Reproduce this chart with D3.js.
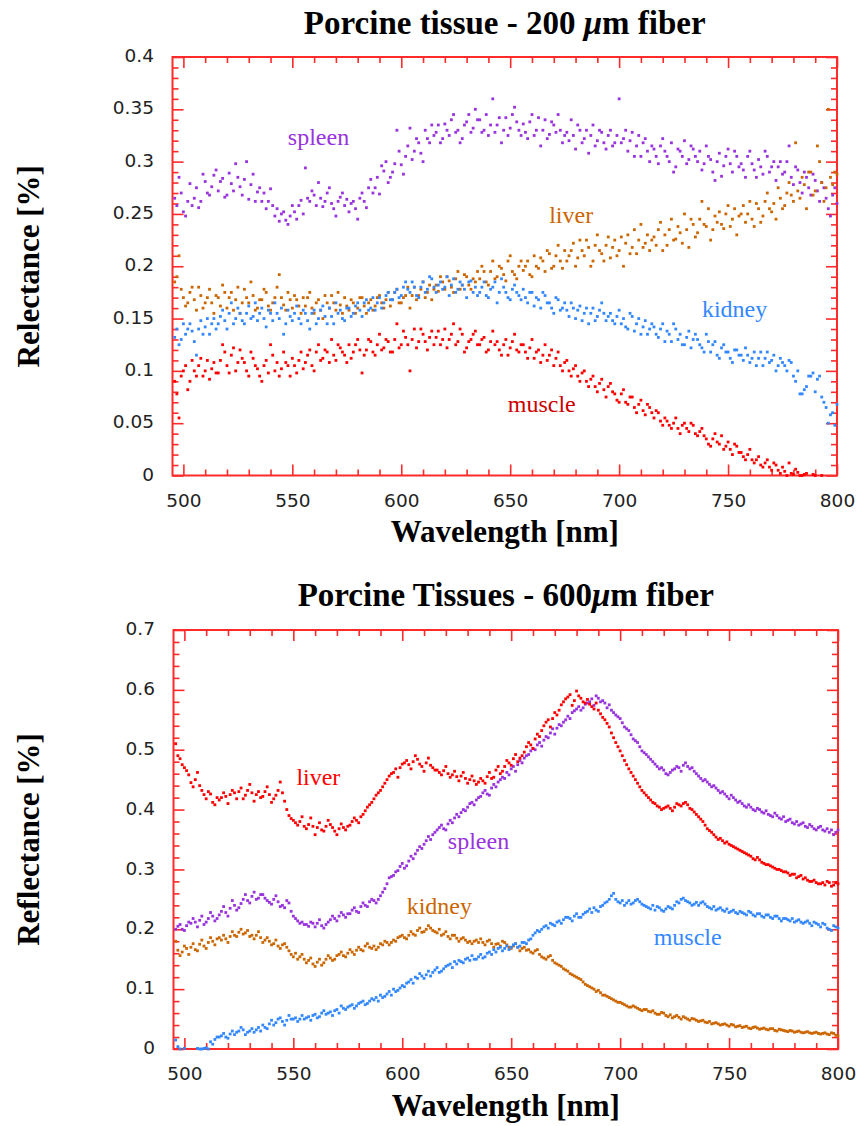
<!DOCTYPE html>
<html><head><meta charset="utf-8">
<script src="https://cdn.jsdelivr.net/npm/d3@7"></script>
<style>body{margin:0;background:#fff}svg{display:block}</style>
</head><body>
<svg id="chart" width="862" height="1126"></svg>
<script>
// ---------- DATA ----------
const wavelengths = [
496,497,498,499,500,501,502,503,504,505,506,507,508,509,510,511,512,513,514,515,
516,517,518,519,520,521,522,523,524,525,526,527,528,529,530,531,532,533,534,535,
536,537,538,539,540,541,542,543,544,545,546,547,548,549,550,551,552,553,554,555,
556,557,558,559,560,561,562,563,564,565,566,567,568,569,570,571,572,573,574,575,
576,577,578,579,580,581,582,583,584,585,586,587,588,589,590,591,592,593,594,595,
596,597,598,599,600,601,602,603,604,605,606,607,608,609,610,611,612,613,614,615,
616,617,618,619,620,621,622,623,624,625,626,627,628,629,630,631,632,633,634,635,
636,637,638,639,640,641,642,643,644,645,646,647,648,649,650,651,652,653,654,655,
656,657,658,659,660,661,662,663,664,665,666,667,668,669,670,671,672,673,674,675,
676,677,678,679,680,681,682,683,684,685,686,687,688,689,690,691,692,693,694,695,
696,697,698,699,700,701,702,703,704,705,706,707,708,709,710,711,712,713,714,715,
716,717,718,719,720,721,722,723,724,725,726,727,728,729,730,731,732,733,734,735,
736,737,738,739,740,741,742,743,744,745,746,747,748,749,750,751,752,753,754,755,
756,757,758,759,760,761,762,763,764,765,766,767,768,769,770,771,772,773,774,775,
776,777,778,779,780,781,782,783,784,785,786,787,788,789,790,791,792,793,794,795,
796,797,798,799,800];

// Panel 1: 200 um fiber
const fiber200Spleen = [
0.265,0.258,0.285,0.27,0.252,0.248,0.262,0.279,0.258,0.265,0.275,0.256,0.262,0.288,0.281,0.27,0.268,0.276,0.287,0.292,
0.272,0.281,0.284,0.266,0.268,0.289,0.279,0.272,0.298,0.285,0.276,0.268,0.283,0.3,0.264,0.278,0.288,0.262,0.271,0.275,
0.262,0.27,0.255,0.262,0.274,0.258,0.248,0.255,0.243,0.25,0.252,0.244,0.24,0.248,0.258,0.252,0.245,0.258,0.263,0.25,
0.294,0.265,0.262,0.272,0.268,0.258,0.28,0.265,0.257,0.262,0.27,0.275,0.26,0.255,0.248,0.262,0.266,0.27,0.258,0.264,
0.252,0.26,0.262,0.255,0.245,0.265,0.27,0.262,0.256,0.275,0.283,0.27,0.275,0.285,0.269,0.296,0.291,0.3,0.28,0.285,
0.29,0.298,0.33,0.31,0.297,0.288,0.305,0.315,0.332,0.302,0.31,0.322,0.318,0.308,0.3,0.33,0.322,0.318,0.335,0.325,
0.328,0.335,0.318,0.322,0.336,0.33,0.325,0.34,0.345,0.328,0.33,0.318,0.322,0.335,0.338,0.345,0.328,0.332,0.35,0.34,
0.34,0.328,0.33,0.345,0.325,0.335,0.36,0.328,0.335,0.342,0.318,0.33,0.342,0.325,0.332,0.345,0.352,0.338,0.33,0.325,
0.336,0.328,0.322,0.338,0.345,0.325,0.33,0.342,0.315,0.33,0.34,0.322,0.326,0.338,0.335,0.328,0.345,0.33,0.318,0.325,
0.328,0.32,0.34,0.325,0.312,0.335,0.33,0.318,0.322,0.33,0.308,0.325,0.335,0.315,0.32,0.33,0.328,0.318,0.312,0.325,
0.33,0.315,0.318,0.325,0.36,0.318,0.322,0.33,0.31,0.32,0.328,0.305,0.315,0.325,0.305,0.318,0.322,0.31,0.3,0.315,
0.312,0.305,0.298,0.315,0.322,0.31,0.305,0.3,0.318,0.29,0.295,0.312,0.31,0.305,0.32,0.298,0.302,0.315,0.312,0.305,
0.3,0.31,0.292,0.298,0.315,0.305,0.302,0.29,0.282,0.3,0.308,0.286,0.296,0.305,0.312,0.298,0.29,0.31,0.305,0.295,
0.298,0.292,0.285,0.305,0.31,0.298,0.292,0.285,0.302,0.295,0.288,0.31,0.305,0.29,0.295,0.3,0.282,0.295,0.3,0.288,
0.29,0.3,0.315,0.285,0.278,0.295,0.292,0.28,0.27,0.29,0.285,0.275,0.268,0.288,0.282,0.272,0.262,0.28,0.275,0.265,
0.255,0.248,0.268,0.275,0.26];
const fiber200Liver = [
0.185,0.19,0.21,0.178,0.17,0.162,0.165,0.175,0.18,0.168,0.158,0.18,0.172,0.16,0.165,0.17,0.178,0.165,0.155,0.172,
0.17,0.162,0.182,0.175,0.16,0.17,0.175,0.158,0.168,0.18,0.155,0.165,0.178,0.17,0.165,0.185,0.172,0.158,0.16,0.168,
0.168,0.178,0.175,0.162,0.158,0.165,0.17,0.18,0.192,0.17,0.163,0.158,0.175,0.168,0.16,0.172,0.168,0.162,0.155,0.17,
0.162,0.17,0.175,0.16,0.155,0.165,0.168,0.158,0.15,0.172,0.165,0.16,0.172,0.165,0.158,0.175,0.163,0.155,0.17,0.162,
0.158,0.168,0.165,0.155,0.16,0.17,0.17,0.162,0.155,0.165,0.168,0.158,0.162,0.17,0.172,0.165,0.16,0.168,0.175,0.162,
0.168,0.175,0.178,0.165,0.165,0.17,0.172,0.18,0.16,0.172,0.18,0.168,0.172,0.178,0.185,0.17,0.175,0.182,0.168,0.178,
0.182,0.176,0.19,0.185,0.178,0.19,0.186,0.18,0.175,0.188,0.195,0.178,0.182,0.192,0.19,0.182,0.178,0.188,0.185,0.195,
0.188,0.2,0.195,0.185,0.182,0.195,0.205,0.188,0.19,0.2,0.198,0.192,0.186,0.205,0.21,0.195,0.192,0.188,0.2,0.205,
0.196,0.2,0.205,0.192,0.19,0.21,0.2,0.198,0.208,0.205,0.195,0.215,0.212,0.198,0.2,0.21,0.22,0.205,0.198,0.215,
0.205,0.21,0.215,0.222,0.2,0.208,0.225,0.215,0.21,0.225,0.218,0.2,0.205,0.22,0.23,0.215,0.212,0.205,0.22,0.228,
0.208,0.218,0.225,0.21,0.215,0.228,0.2,0.222,0.23,0.212,0.218,0.235,0.212,0.225,0.24,0.218,0.222,0.23,0.215,0.225,
0.228,0.22,0.235,0.242,0.215,0.23,0.22,0.235,0.245,0.225,0.226,0.238,0.232,0.222,0.25,0.235,0.218,0.245,0.24,0.228,
0.232,0.245,0.262,0.24,0.238,0.255,0.225,0.235,0.248,0.242,0.252,0.24,0.236,0.25,0.258,0.238,0.245,0.255,0.23,0.248,
0.25,0.258,0.242,0.25,0.262,0.245,0.238,0.26,0.255,0.242,0.248,0.262,0.27,0.255,0.252,0.26,0.245,0.275,0.265,0.255,
0.258,0.27,0.28,0.268,0.262,0.318,0.272,0.265,0.285,0.278,0.255,0.29,0.29,0.268,0.272,0.315,0.3,0.28,0.262,0.275,
0.35,0.285,0.278,0.29,0.288];
const fiber200Kidney = [
0.132,0.14,0.125,0.13,0.145,0.135,0.14,0.145,0.138,0.128,0.115,0.14,0.148,0.135,0.142,0.15,0.135,0.145,0.15,0.14,
0.145,0.152,0.158,0.148,0.14,0.155,0.165,0.145,0.15,0.16,0.155,0.148,0.145,0.155,0.162,0.15,0.152,0.165,0.148,0.155,
0.16,0.15,0.142,0.158,0.155,0.148,0.165,0.155,0.15,0.16,0.135,0.145,0.158,0.152,0.148,0.155,0.162,0.15,0.145,0.158,
0.155,0.148,0.14,0.155,0.158,0.145,0.15,0.158,0.162,0.152,0.145,0.16,0.152,0.145,0.165,0.155,0.158,0.15,0.148,0.16,
0.16,0.152,0.155,0.162,0.165,0.158,0.152,0.165,0.168,0.158,0.16,0.17,0.158,0.165,0.17,0.16,0.165,0.172,0.175,0.168,
0.168,0.175,0.178,0.17,0.172,0.18,0.185,0.178,0.175,0.185,0.18,0.172,0.17,0.18,0.185,0.175,0.178,0.19,0.188,0.18,
0.175,0.182,0.185,0.178,0.18,0.19,0.172,0.182,0.188,0.175,0.178,0.185,0.182,0.178,0.17,0.185,0.186,0.175,0.18,0.172,
0.175,0.18,0.185,0.172,0.17,0.178,0.18,0.185,0.165,0.175,0.188,0.18,0.175,0.17,0.168,0.178,0.182,0.175,0.172,0.168,
0.178,0.17,0.165,0.175,0.175,0.162,0.17,0.168,0.16,0.175,0.172,0.165,0.165,0.16,0.155,0.17,0.168,0.158,0.16,0.165,
0.158,0.152,0.165,0.16,0.15,0.158,0.162,0.148,0.155,0.16,0.145,0.155,0.16,0.148,0.152,0.158,0.165,0.155,0.148,0.152,
0.155,0.148,0.145,0.152,0.158,0.145,0.15,0.142,0.14,0.155,0.152,0.138,0.145,0.15,0.135,0.142,0.148,0.135,0.14,0.145,
0.142,0.135,0.132,0.14,0.145,0.128,0.138,0.135,0.128,0.145,0.14,0.13,0.135,0.125,0.125,0.132,0.138,0.122,0.13,0.135,
0.13,0.125,0.122,0.118,0.135,0.128,0.118,0.125,0.128,0.115,0.112,0.122,0.125,0.118,0.118,0.112,0.108,0.12,0.12,0.115,
0.115,0.11,0.122,0.115,0.108,0.112,0.118,0.105,0.112,0.118,0.105,0.112,0.118,0.108,0.11,0.115,0.1,0.105,0.112,0.108,
0.105,0.1,0.11,0.108,0.095,0.09,0.1,0.078,0.078,0.082,0.085,0.095,0.095,0.098,0.08,0.092,0.095,0.075,0.07,0.065,
0.05,0.058,0.06,0.048,0.068];
const fiber200Muscle = [
0.09,0.078,0.055,0.095,0.1,0.105,0.082,0.09,0.11,0.1,0.095,0.105,0.112,0.095,0.1,0.11,0.092,0.102,0.108,0.098,
0.098,0.11,0.125,0.118,0.105,0.098,0.115,0.122,0.1,0.108,0.12,0.112,0.108,0.1,0.095,0.118,0.112,0.105,0.102,0.095,
0.09,0.105,0.11,0.098,0.125,0.115,0.1,0.108,0.095,0.102,0.118,0.108,0.105,0.095,0.112,0.105,0.098,0.11,0.118,0.102,
0.108,0.115,0.12,0.105,0.1,0.118,0.125,0.11,0.112,0.12,0.118,0.108,0.13,0.115,0.11,0.125,0.122,0.118,0.115,0.108,
0.125,0.112,0.118,0.125,0.13,0.12,0.098,0.115,0.12,0.13,0.128,0.118,0.115,0.125,0.135,0.12,0.122,0.13,0.128,0.118,
0.118,0.13,0.145,0.122,0.125,0.138,0.132,0.125,0.1,0.13,0.14,0.122,0.128,0.14,0.135,0.128,0.12,0.132,0.138,0.125,
0.132,0.138,0.125,0.13,0.14,0.122,0.13,0.135,0.145,0.125,0.128,0.14,0.135,0.118,0.122,0.128,0.13,0.135,0.138,0.125,
0.125,0.13,0.132,0.118,0.12,0.128,0.138,0.125,0.128,0.12,0.115,0.125,0.13,0.115,0.122,0.128,0.135,0.12,0.118,0.125,
0.125,0.118,0.112,0.122,0.13,0.112,0.118,0.12,0.108,0.115,0.125,0.11,0.115,0.12,0.105,0.112,0.118,0.105,0.1,0.108,
0.11,0.1,0.095,0.102,0.105,0.095,0.09,0.098,0.1,0.09,0.085,0.092,0.095,0.085,0.08,0.088,0.092,0.082,0.075,0.085,
0.088,0.08,0.078,0.072,0.07,0.078,0.082,0.07,0.068,0.075,0.075,0.065,0.06,0.068,0.072,0.062,0.058,0.068,0.065,0.06,
0.055,0.062,0.06,0.052,0.048,0.055,0.052,0.048,0.045,0.05,0.055,0.045,0.04,0.048,0.05,0.045,0.042,0.05,0.048,0.04,
0.038,0.042,0.045,0.038,0.035,0.03,0.028,0.035,0.04,0.032,0.03,0.038,0.025,0.028,0.032,0.025,0.02,0.03,0.028,0.022,
0.022,0.018,0.015,0.02,0.025,0.015,0.012,0.015,0.018,0.01,0.008,0.012,0.015,0.008,0.005,0.012,0.01,0.005,0.002,0.008,
0.004,0.0,0.012,0.002,0.001,0.006,0.003,0.0,0.0,0.001,0.002,-0.004,-0.005,0.001,0.0,-0.01,-0.01,0.0,-0.01,-0.02,
-0.02,-0.02,-0.02,-0.02,-0.02];

// Panel 2: 600 um fiber
const fiber600Liver = [
0.51,0.49,0.485,0.475,0.47,0.465,0.458,0.445,0.438,0.45,0.462,0.44,0.432,0.425,0.418,0.43,0.426,0.412,0.408,0.42,
0.416,0.42,0.428,0.422,0.41,0.425,0.432,0.428,0.418,0.43,0.436,0.418,0.424,0.432,0.442,0.428,0.414,0.425,0.43,0.42,
0.422,0.43,0.438,0.425,0.412,0.418,0.424,0.432,0.446,0.428,0.414,0.4,0.39,0.385,0.382,0.378,0.374,0.38,0.388,0.372,
0.368,0.375,0.386,0.372,0.358,0.37,0.378,0.366,0.364,0.372,0.382,0.375,0.37,0.364,0.358,0.368,0.376,0.37,0.366,0.372,
0.374,0.38,0.386,0.382,0.378,0.388,0.392,0.398,0.404,0.408,0.412,0.418,0.424,0.428,0.432,0.438,0.444,0.45,0.456,0.46,
0.462,0.468,0.454,0.47,0.476,0.478,0.482,0.475,0.468,0.48,0.49,0.484,0.476,0.472,0.464,0.478,0.486,0.474,0.47,0.466,
0.466,0.462,0.458,0.465,0.472,0.46,0.454,0.458,0.464,0.455,0.448,0.456,0.462,0.452,0.444,0.45,0.456,0.448,0.442,0.446,
0.452,0.448,0.444,0.455,0.462,0.452,0.454,0.466,0.472,0.46,0.464,0.472,0.482,0.478,0.474,0.485,0.492,0.48,0.486,0.49,
0.496,0.505,0.512,0.508,0.502,0.518,0.526,0.522,0.532,0.54,0.546,0.55,0.538,0.552,0.562,0.558,0.566,0.575,0.58,0.585,
0.588,0.592,0.574,0.582,0.598,0.59,0.586,0.58,0.578,0.584,0.576,0.572,0.568,0.578,0.566,0.56,0.554,0.55,0.544,0.538,
0.528,0.52,0.512,0.505,0.498,0.49,0.482,0.475,0.468,0.462,0.456,0.45,0.444,0.438,0.432,0.428,0.424,0.42,0.416,0.412,
0.41,0.406,0.404,0.4,0.402,0.404,0.406,0.402,0.398,0.404,0.41,0.408,0.406,0.41,0.412,0.408,0.402,0.4,0.396,0.392,
0.388,0.384,0.38,0.374,0.368,0.365,0.362,0.358,0.354,0.35,0.352,0.348,0.344,0.346,0.342,0.34,0.338,0.336,0.334,0.332,
0.33,0.328,0.326,0.324,0.322,0.318,0.316,0.32,0.316,0.312,0.31,0.308,0.308,0.306,0.304,0.302,0.3,0.3,0.298,0.296,
0.296,0.294,0.29,0.292,0.292,0.286,0.288,0.29,0.284,0.286,0.282,0.28,0.28,0.282,0.278,0.276,0.276,0.278,0.274,0.28,
0.278,0.272,0.274,0.278,0.276];
const fiber600Spleen = [
0.2,0.205,0.208,0.2,0.198,0.206,0.212,0.21,0.218,0.212,0.204,0.215,0.222,0.208,0.212,0.218,0.228,0.222,0.214,0.218,
0.224,0.23,0.238,0.228,0.222,0.235,0.248,0.24,0.232,0.236,0.243,0.25,0.258,0.248,0.244,0.255,0.262,0.25,0.252,0.258,
0.258,0.252,0.248,0.245,0.242,0.25,0.256,0.246,0.238,0.24,0.236,0.248,0.244,0.23,0.222,0.218,0.214,0.21,0.212,0.208,
0.208,0.205,0.212,0.21,0.204,0.21,0.216,0.206,0.202,0.208,0.212,0.216,0.222,0.218,0.214,0.222,0.228,0.224,0.22,0.226,
0.226,0.232,0.236,0.23,0.228,0.238,0.244,0.24,0.238,0.246,0.25,0.248,0.244,0.25,0.256,0.262,0.268,0.276,0.286,0.288,
0.29,0.296,0.298,0.305,0.31,0.302,0.306,0.314,0.322,0.318,0.326,0.332,0.338,0.335,0.342,0.348,0.355,0.35,0.358,0.362,
0.366,0.37,0.374,0.368,0.366,0.376,0.382,0.378,0.386,0.392,0.388,0.395,0.4,0.398,0.404,0.41,0.412,0.408,0.416,0.42,
0.422,0.428,0.432,0.426,0.424,0.436,0.442,0.438,0.446,0.45,0.454,0.452,0.462,0.458,0.468,0.472,0.464,0.475,0.482,0.478,
0.486,0.49,0.492,0.498,0.502,0.5,0.508,0.512,0.506,0.516,0.522,0.52,0.528,0.535,0.526,0.536,0.542,0.54,0.546,0.55,
0.556,0.552,0.562,0.565,0.568,0.572,0.566,0.57,0.576,0.578,0.58,0.585,0.574,0.59,0.586,0.58,0.582,0.578,0.57,0.575,
0.566,0.562,0.558,0.555,0.552,0.545,0.538,0.535,0.532,0.525,0.518,0.515,0.512,0.505,0.498,0.495,0.492,0.488,0.484,0.48,
0.476,0.472,0.468,0.47,0.466,0.46,0.458,0.462,0.466,0.468,0.472,0.47,0.464,0.474,0.478,0.472,0.468,0.47,0.464,0.46,
0.456,0.452,0.448,0.45,0.446,0.442,0.438,0.44,0.436,0.432,0.428,0.43,0.426,0.422,0.418,0.424,0.42,0.416,0.412,0.414,
0.41,0.406,0.404,0.408,0.404,0.4,0.398,0.402,0.4,0.396,0.394,0.398,0.392,0.39,0.388,0.394,0.39,0.386,0.384,0.388,
0.38,0.382,0.384,0.378,0.376,0.38,0.374,0.376,0.378,0.372,0.37,0.375,0.372,0.368,0.366,0.37,0.372,0.366,0.364,0.368,
0.362,0.366,0.358,0.362,0.366];
const fiber600Kidney = [
0.18,0.165,0.156,0.162,0.172,0.168,0.158,0.17,0.176,0.166,0.164,0.175,0.182,0.172,0.168,0.178,0.186,0.18,0.174,0.184,
0.186,0.182,0.19,0.184,0.178,0.188,0.196,0.19,0.188,0.195,0.2,0.192,0.194,0.198,0.188,0.19,0.184,0.19,0.196,0.186,
0.178,0.182,0.186,0.18,0.174,0.176,0.182,0.172,0.168,0.174,0.176,0.17,0.164,0.158,0.154,0.16,0.15,0.154,0.158,0.15,
0.144,0.148,0.152,0.142,0.138,0.145,0.15,0.14,0.144,0.15,0.156,0.152,0.148,0.15,0.156,0.158,0.162,0.156,0.154,0.16,
0.166,0.162,0.158,0.165,0.17,0.166,0.164,0.172,0.176,0.17,0.168,0.172,0.166,0.17,0.176,0.174,0.18,0.178,0.174,0.178,
0.182,0.18,0.186,0.188,0.19,0.186,0.184,0.19,0.196,0.192,0.19,0.198,0.202,0.195,0.196,0.2,0.206,0.202,0.198,0.196,
0.194,0.2,0.19,0.192,0.196,0.188,0.184,0.19,0.19,0.185,0.18,0.184,0.186,0.182,0.178,0.18,0.176,0.18,0.182,0.178,
0.184,0.178,0.174,0.18,0.182,0.176,0.17,0.175,0.176,0.172,0.18,0.178,0.174,0.17,0.168,0.172,0.176,0.17,0.164,0.168,
0.17,0.165,0.166,0.162,0.16,0.164,0.166,0.158,0.154,0.152,0.15,0.154,0.156,0.148,0.144,0.142,0.14,0.138,0.134,0.132,
0.13,0.126,0.124,0.122,0.12,0.118,0.116,0.112,0.108,0.106,0.104,0.102,0.1,0.096,0.098,0.094,0.09,0.09,0.088,0.086,
0.084,0.082,0.08,0.078,0.078,0.076,0.074,0.072,0.07,0.07,0.072,0.07,0.068,0.066,0.064,0.066,0.066,0.063,0.062,0.064,
0.06,0.058,0.058,0.061,0.06,0.056,0.054,0.057,0.052,0.054,0.056,0.053,0.05,0.054,0.052,0.05,0.048,0.051,0.05,0.048,
0.046,0.047,0.048,0.045,0.044,0.046,0.042,0.043,0.044,0.042,0.04,0.041,0.042,0.04,0.038,0.041,0.04,0.037,0.038,0.039,
0.036,0.037,0.038,0.035,0.034,0.036,0.037,0.035,0.033,0.034,0.035,0.033,0.032,0.034,0.034,0.031,0.03,0.033,0.032,0.031,
0.03,0.029,0.031,0.03,0.028,0.029,0.03,0.028,0.027,0.028,0.029,0.027,0.026,0.027,0.028,0.026,0.025,0.026,0.027,0.025,
0.024,0.027,0.026,0.023,0.022];
const fiber600Muscle = [
0.015,0.004,0.0,-0.005,0.001,-0.01,-0.01,-0.01,-0.01,-0.01,0.001,0.0,0.0,0.001,0.002,0.0,0.012,0.008,0.016,0.02,
0.02,0.022,0.026,0.02,0.018,0.025,0.03,0.024,0.028,0.03,0.036,0.032,0.024,0.028,0.03,0.034,0.028,0.032,0.036,0.03,
0.04,0.036,0.034,0.042,0.048,0.04,0.044,0.05,0.052,0.046,0.04,0.048,0.056,0.05,0.05,0.052,0.046,0.05,0.056,0.05,
0.052,0.054,0.048,0.056,0.058,0.052,0.054,0.06,0.064,0.058,0.06,0.062,0.056,0.064,0.066,0.06,0.072,0.068,0.066,0.07,
0.072,0.074,0.068,0.072,0.076,0.078,0.08,0.074,0.076,0.08,0.084,0.082,0.086,0.08,0.09,0.086,0.088,0.092,0.096,0.09,
0.1,0.096,0.098,0.102,0.106,0.104,0.11,0.112,0.116,0.11,0.12,0.118,0.126,0.122,0.118,0.124,0.13,0.122,0.128,0.132,
0.136,0.128,0.13,0.134,0.138,0.14,0.142,0.136,0.146,0.142,0.148,0.146,0.144,0.15,0.152,0.148,0.156,0.15,0.15,0.154,
0.158,0.152,0.154,0.16,0.162,0.158,0.166,0.162,0.168,0.17,0.164,0.168,0.172,0.166,0.17,0.174,0.176,0.17,0.172,0.178,
0.178,0.176,0.182,0.184,0.19,0.194,0.198,0.196,0.2,0.204,0.206,0.202,0.21,0.208,0.206,0.212,0.214,0.21,0.216,0.22,
0.22,0.218,0.214,0.222,0.226,0.22,0.22,0.225,0.228,0.23,0.234,0.228,0.236,0.232,0.23,0.238,0.24,0.244,0.246,0.25,
0.256,0.26,0.25,0.246,0.244,0.248,0.24,0.244,0.248,0.242,0.244,0.248,0.25,0.246,0.242,0.24,0.238,0.236,0.234,0.24,
0.232,0.238,0.236,0.232,0.23,0.234,0.238,0.236,0.234,0.24,0.246,0.244,0.25,0.252,0.248,0.246,0.244,0.24,0.242,0.245,
0.24,0.244,0.246,0.242,0.238,0.236,0.234,0.238,0.232,0.234,0.236,0.232,0.23,0.234,0.228,0.23,0.232,0.228,0.226,0.23,
0.228,0.226,0.224,0.23,0.228,0.224,0.222,0.226,0.226,0.222,0.22,0.224,0.224,0.22,0.218,0.222,0.222,0.218,0.214,0.218,
0.218,0.216,0.214,0.218,0.212,0.214,0.216,0.212,0.21,0.212,0.214,0.21,0.206,0.212,0.21,0.208,0.204,0.21,0.208,0.202,
0.2,0.198,0.206,0.204,0.202];

// Tick labels
const xTickLabels = [500, 550, 600, 650, 700, 750, 800];
const yTicks200 = [0, 0.05, 0.1, 0.15, 0.2, 0.25, 0.3, 0.35, 0.4];
const yTicks600 = [0, 0.1, 0.2, 0.3, 0.4, 0.5, 0.6, 0.7];

// Series labels (annotation anchored in data coordinates)
const labels200 = [
  {name: "spleen", w: 562, v: 0.3155},
  {name: "liver",  w: 678, v: 0.2414},
  {name: "kidney", w: 753, v: 0.1518},
  {name: "muscle", w: 664.5, v: 0.061}
];
const labels600 = [
  {name: "liver",  w: 561.5, v: 0.441},
  {name: "spleen", w: 635, v: 0.334},
  {name: "kidney", w: 617, v: 0.2255},
  {name: "muscle", w: 731, v: 0.1737}
];

// ---------- DRAW ----------
const svg = d3.select("#chart");
const FRAME = "#ff2a2a";
const PURPLE = "#9933dd", ORANGE = "#cc6600", BLUE = "#3388ff", RED = "#ff0000";

function fmt(d) { return String(+d.toFixed(2)); }

function panel(o) {
  const x = d3.scaleLinear().domain([495, 800]).range([o.left, o.right]);
  const y = d3.scaleLinear().domain([0, o.ymax]).range([o.bottom, o.top]);
  const g = svg.append("g");

  const minorX = d3.range(500, 801, 10).filter(v => v % 50 !== 0);
  const minorY = d3.range(0, o.ymax + 1e-9, o.minorStep)
    .filter(v => !o.yTicks.some(t => Math.abs(t - v) < 1e-6));

  function styleAxis(sel) {
    sel.select(".domain").remove();
    sel.selectAll(".tick line").attr("stroke", FRAME).attr("stroke-width", 1.6);
    sel.selectAll(".tick text").attr("fill", "#222").attr("font-family", "DejaVu Sans")
      .attr("font-size", 18.5);
  }
  function axis(gen, tr) {
    g.append("g").attr("transform", tr).call(gen).call(styleAxis);
  }
  axis(d3.axisBottom(x).tickValues(xTickLabels).tickSize(-11).tickSizeOuter(0).tickPadding(18).tickFormat(d3.format("d")), `translate(0,${o.bottom})`);
  axis(d3.axisBottom(x).tickValues(minorX).tickSize(-6).tickSizeOuter(0).tickFormat(""), `translate(0,${o.bottom})`);
  axis(d3.axisTop(x).tickValues(xTickLabels).tickSize(-11).tickSizeOuter(0).tickFormat(""), `translate(0,${o.top})`);
  axis(d3.axisTop(x).tickValues(minorX).tickSize(-6).tickSizeOuter(0).tickFormat(""), `translate(0,${o.top})`);
  g.append("g").attr("transform", `translate(${o.left},0)`)
    .call(d3.axisLeft(y).tickValues(o.yTicks).tickSize(-11).tickSizeOuter(0).tickPadding(18.5).tickFormat(fmt))
    .call(styleAxis)
    .call(s => s.selectAll(".tick text").attr("dy", "0.25em"));
  axis(d3.axisLeft(y).tickValues(minorY).tickSize(-6).tickSizeOuter(0).tickFormat(""), `translate(${o.left},0)`);
  axis(d3.axisRight(y).tickValues(o.yTicks).tickSize(-11).tickSizeOuter(0).tickFormat(""), `translate(${o.right},0)`);
  axis(d3.axisRight(y).tickValues(minorY).tickSize(-6).tickSizeOuter(0).tickFormat(""), `translate(${o.right},0)`);

  g.append("rect").attr("x", o.left).attr("y", o.top)
    .attr("width", o.right - o.left).attr("height", o.bottom - o.top)
    .attr("fill", "none").attr("stroke", FRAME).attr("stroke-width", 2);

  o.series.forEach(s => {
    const pts = wavelengths.map((w, i) => [w, s.values[i]])
      .filter(d => d[1] != null && d[1] >= 0 && d[1] <= o.ymax);
    g.append("g").selectAll("rect").data(pts).join("rect")
      .attr("x", d => x(d[0]) - 1.4).attr("y", d => y(d[1]) - 1.4)
      .attr("width", 2.8).attr("height", 2.8).attr("fill", s.color);
  });

  o.labels.forEach(l => {
    g.append("text").attr("x", x(l.w)).attr("y", y(l.v))
      .attr("text-anchor", "middle").attr("font-family", "Liberation Serif")
      .attr("font-size", 24).attr("fill", o.labelColors[l.name]).text(l.name);
  });

  const cx = (o.left + o.right) / 2;
  const t = g.append("text").attr("x", cx).attr("y", o.titleY).attr("text-anchor", "middle")
    .attr("font-family", "Liberation Serif").attr("font-weight", "bold").attr("font-size", 33).attr("fill", "#000");
  o.title.forEach(part => {
    const ts = t.append("tspan").text(part.t);
    if (part.italic) ts.attr("font-style", "italic");
  });
  g.append("text").attr("x", cx).attr("y", o.bottom + 66.5).attr("text-anchor", "middle")
    .attr("font-family", "Liberation Serif").attr("font-weight", "bold").attr("font-size", 31)
    .attr("fill", "#000").text("Wavelength [nm]");
  const cy = (o.top + o.bottom) / 2;
  g.append("text").attr("transform", `translate(39,${cy}) rotate(-90)`).attr("text-anchor", "middle")
    .attr("font-family", "Liberation Serif").attr("font-weight", "bold").attr("font-size", 31)
    .attr("fill", "#000").text(o.ylabel);
}

panel({
  left: 172.5, right: 837, top: 57, bottom: 475.5, ymax: 0.4,
  yTicks: yTicks200, minorStep: 0.01,
  series: [
    {values: fiber200Spleen, color: PURPLE},
    {values: fiber200Liver, color: ORANGE},
    {values: fiber200Kidney, color: BLUE},
    {values: fiber200Muscle, color: RED}
  ],
  labels: labels200,
  labelColors: {spleen: PURPLE, liver: ORANGE, kidney: BLUE, muscle: "#cc0000"},
  title: [{t: "Porcine tissue - 200 "}, {t: "\u03bc", italic: true}, {t: "m fiber"}],
  titleY: 34,
  ylabel: "Relectance [%]"
});

panel({
  left: 173.5, right: 838, top: 630, bottom: 1049, ymax: 0.7,
  yTicks: yTicks600, minorStep: 0.02,
  series: [
    {values: fiber600Kidney, color: ORANGE},
    {values: fiber600Muscle, color: BLUE},
    {values: fiber600Spleen, color: PURPLE},
    {values: fiber600Liver, color: RED}
  ],
  labels: labels600,
  labelColors: {spleen: PURPLE, liver: RED, kidney: ORANGE, muscle: BLUE},
  title: [{t: "Porcine Tissues - 600"}, {t: "\u03bc", italic: true}, {t: "m fiber"}],
  titleY: 606,
  ylabel: "Reflectance [%]"
});
</script>
</body></html>
